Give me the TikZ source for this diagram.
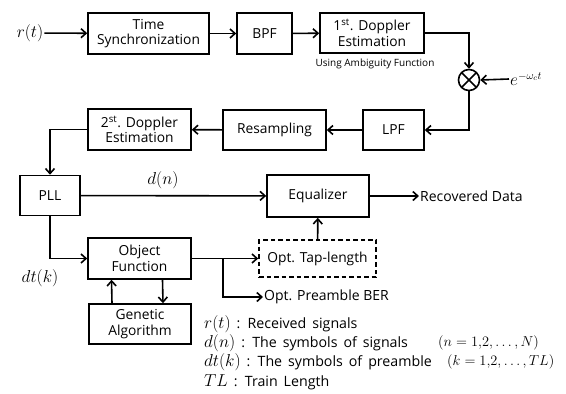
\documentclass[tikz,border=0pt]{standalone}
\usepackage{fontspec}
\setmainfont{Open Sans}
\usepackage{amsmath}
\usetikzlibrary{arrows.meta, positioning, calc}
% larger math symbols and wider word gaps for the symbol list
\newcommand{\symb}[1]{{\fontsize{16.5}{18}\selectfont$#1$}}
\newcommand{\rng}[1]{{\fontsize{14.6}{16}\selectfont$#1$}}
\newcommand{\widespace}{\spaceskip=0.42em plus 0.1em\relax}
\tikzset{
    block/.style={draw, rectangle, line width=1.6pt, align=center, inner sep=0pt, font=\fontsize{13.8}{15.5}\selectfont},
    dashblock/.style={block, dash pattern=on 4.5pt off 3pt},
    mixerblock/.style={draw, circle, line width=1.6pt, minimum size=21pt, inner sep=0pt,
        path picture={\draw[line width=1.6pt] (path picture bounding box.north west) -- (path picture bounding box.south east)
                      (path picture bounding box.north east) -- (path picture bounding box.south west);}},
    sig/.style={-{Straight Barb[length=5pt,width=9pt,line width=1.6pt]}, line width=1.6pt},
    label/.style={inner sep=1pt, font=\fontsize{14}{16}\selectfont},
    mathlabel/.style={inner sep=1pt, font=\fontsize{16}{18}\selectfont},
    note/.style={inner sep=0pt, font=\fontsize{10}{11}\selectfont},
    legend/.style={inner sep=0pt, anchor=west, font=\fontsize{14.2}{15}\selectfont\widespace},
}

\begin{document}
\begin{tikzpicture}[x=1pt, y=-1pt]
    \useasboundingbox (0,0) rectangle (566,394);

    % receiver front end
    \node[mathlabel] (rt) at (30,33) {$r(t)$};
    \node[block, minimum width=121pt, minimum height=41pt] (tsync) at (148.5,33.5) {Time\\Synchronization};
    \node[block, minimum width=55pt, minimum height=41pt] (bpf) at (264.5,33.5) {BPF};
    \node[block, minimum width=104pt, minimum height=40pt] (dop1) at (372,33) {1\textsuperscript{st}. Doppler\\Estimation};
    \node[note] (amb) at (375,64) {Using Ambiguity Function};

    % down conversion
    \node[mixerblock] (mixer) at (469,80) {};
    \node[mathlabel, anchor=west] (carrier) at (509,79) {$e^{-\omega_c t}$};

    % second row
    \node[block, minimum width=61pt, minimum height=40pt] (lpf) at (393.5,130) {LPF};
    \node[block, minimum width=103pt, minimum height=40pt] (resamp) at (274.5,130) {Resampling};
    \node[block, minimum width=103pt, minimum height=41pt] (dop2) at (139.5,129.5) {2\textsuperscript{st}. Doppler\\Estimation};

    % equalization
    \node[block, minimum width=60pt, minimum height=40pt] (pll) at (50,195.5) {PLL};
    \node[block, minimum width=102pt, minimum height=42pt] (eq) at (318,196) {Equalizer};
    \node[label, anchor=west] (rec) at (419,196) {Recovered Data};
    \node[mathlabel] (dn) at (163,180) {$d(n)$};

    % preamble optimization
    \node[block, minimum width=103pt, minimum height=41pt] (of) at (139.5,258.5) {Object\\Function};
    \node[block, minimum width=102pt, minimum height=40pt] (ga) at (140,324) {Genetic\\Algorithm};
    \node[dashblock, minimum width=117pt, minimum height=37pt] (tap) at (317.5,258.5) {Opt. Tap-length};
    \node[label, anchor=west] (ber) at (263,297) {Opt. Preamble BER};
    \node[mathlabel] (dtk) at (40,278) {$dt(k)$};
    \coordinate (br) at (223,258.5);

    % connections
    \draw[sig] (rt) -- (tsync);
    \draw[sig] (tsync) -- (bpf);
    \draw[sig] (bpf) -- (dop1);
    \draw[sig] (dop1.east) -| (mixer.north);
    \draw[sig] (carrier.west) -- (mixer.east);
    \draw[sig] (mixer.south) |- (lpf.east);
    \draw[sig] (lpf) -- (resamp);
    \draw[sig] (resamp) -- (dop2);
    \draw[sig] (dop2.west) -| (pll.north);
    \draw[sig] (pll) -- (eq);
    \draw[sig] (eq) -- (rec);
    \draw[sig] (pll.south) |- (of.west);
    \draw[sig] (of) -- (tap);
    \draw[sig] (br) |- (ber.west);
    \draw[sig] (tap) -- (eq);
    \draw[sig] ([xshift=-28pt]ga.north) -- ([xshift=-28pt]of.south);
    \draw[sig] ([xshift=23pt]of.south) -- ([xshift=23pt]ga.north);

    % symbol list
    \node[legend] (l1) at (204,324) {\symb{r(t)} : Received signals};
    \node[legend] (l2) at (204,343) {\symb{d(n)} : The symbols of signals};
    \node[legend] (l3) at (204,362) {\symb{dt(k)} : The symbols of preamble};
    \node[legend] (l4) at (204,382) {\symb{TL} : Train Length};
    \node[legend] (r2) at (438,343) {\rng{(n = 1{,}2,\dots,N)}};
    \node[legend] (r3) at (447,362) {\rng{(k = 1{,}2,\dots,TL)}};
\end{tikzpicture}
\end{document}
